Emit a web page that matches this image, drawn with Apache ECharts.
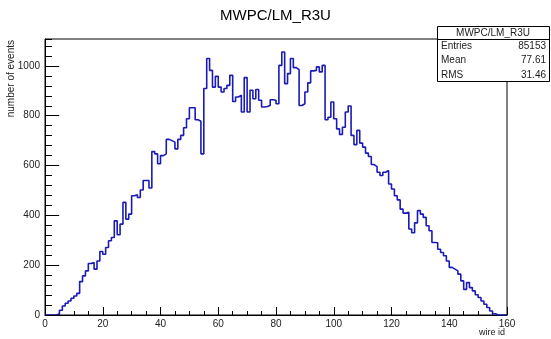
<!DOCTYPE html>
<html>
<head>
    <meta charset="utf-8">
    <title>MWPC/LM_R3U</title>
    <style type="text/css">
        html, body { height: 100%; margin: 0; padding: 0; background: #fff; }
        #main { width: 551px; height: 339px; }
    </style>
</head>
<body>
<div id="main"></div>
<script type="text/javascript" src="https://cdn.jsdelivr.net/npm/echarts@6/dist/echarts.min.js"></script>
<script type="text/javascript">
    // histogram: 160 bins of width 1 starting at 0
    var binStart = 0;
    var binWidth = 1;
    var counts = [
        0, 0, 0, 0, 5, 19, 36, 47, 56, 67,
        76, 87, 134, 157, 177, 207, 211, 184, 217, 255,
        244, 271, 298, 311, 378, 322, 365, 452, 385, 405,
        479, 483, 472, 502, 540, 540, 510, 656, 647, 607,
        640, 647, 705, 700, 694, 667, 705, 721, 752, 788,
        832, 832, 784, 778, 647, 909, 1030, 982, 915, 958,
        915, 895, 909, 922, 962, 857, 875, 882, 815, 953,
        815, 902, 868, 905, 862, 835, 837, 841, 864, 862,
        848, 1002, 1056, 929, 969, 1030, 993, 985, 841, 848,
        895, 932, 980, 982, 996, 976, 1002, 784, 794, 855,
        788, 747, 725, 754, 815, 839, 721, 684, 741, 690,
        674, 650, 636, 604, 596, 573, 560, 573, 580, 526,
        506, 479, 462, 425, 409, 412, 345, 330, 370, 419,
        405, 392, 358, 338, 291, 290, 264, 251, 238, 217,
        191, 184, 177, 164, 137, 103, 130, 110, 97, 81,
        70, 56, 43, 30, 16, 5, 0, 0, 0, 0
    ];
    var statNames = ['Entries', 'Mean', 'RMS'];
    var statValues = ['85153', '77.61', '31.46'];
    var histTitle = 'MWPC/LM_R3U';
    var yMajorLabels = [0, 200, 400, 600, 800, 1000];

    var points = [];
    for (var i = 0; i < counts.length; i++) {
        points.push([binStart + i * binWidth, counts[i]]);
    }
    points.push([binStart + counts.length * binWidth, counts[counts.length - 1]]);

    var font = 'Liberation Sans';
    var statsX = 437, statsY = 26, statsW = 112;
    var graphics = [
        {type: 'text', left: 'center', top: 8, style: {text: histTitle, font: '15px ' + font, fill: '#000'}},
        {type: 'text', x: 11, y: 40, rotation: Math.PI / 2,
            style: {text: 'number of events', font: '10px ' + font, fill: '#222', align: 'right', verticalAlign: 'middle'}},
        {type: 'text', x: 505, y: 333,
            style: {text: 'wire id', font: '9px ' + font, fill: '#222', align: 'right', verticalAlign: 'middle'}},
        {type: 'rect', shape: {x: statsX + 0.5, y: statsY + 0.5, width: statsW, height: 55}, z: 100,
            style: {fill: '#fff', stroke: '#000', lineWidth: 1}},
        {type: 'line', shape: {x1: statsX, y1: 39.5, x2: statsX + statsW, y2: 39.5}, z: 101,
            style: {stroke: '#000', lineWidth: 1}},
        {type: 'text', x: statsX + statsW / 2, y: 33, z: 101,
            style: {text: histTitle, font: '10px ' + font, fill: '#222', align: 'center', verticalAlign: 'middle'}}
    ];
    for (var k = 0; k < statNames.length; k++) {
        graphics.push({type: 'text', x: statsX + 4, y: 46 + k * 14.5, z: 101,
            style: {text: statNames[k], font: '10px ' + font, fill: '#222', align: 'left', verticalAlign: 'middle'}});
        graphics.push({type: 'text', x: statsX + statsW - 3, y: 46 + k * 14.5, z: 101,
            style: {text: statValues[k], font: '10px ' + font, fill: '#222', align: 'right', verticalAlign: 'middle'}});
    }

    var myChart = echarts.init(document.getElementById('main'), null, {renderer: 'canvas'});
    myChart.setOption({
        animation: false,
        backgroundColor: '#fff',
        textStyle: {fontFamily: font},
        grid: {left: 45, right: 44, top: 39, bottom: 24, show: true, borderColor: '#000', borderWidth: 1},
        xAxis: {
            type: 'value', min: 0, max: 160, interval: 20,
            axisLine: {lineStyle: {color: '#000'}},
            axisTick: {inside: true, length: 8, lineStyle: {color: '#000'}},
            minorTick: {show: true, splitNumber: 4, length: 4, lineStyle: {color: '#000'}},
            axisLabel: {fontSize: 10, color: '#222', margin: 4},
            splitLine: {show: false}
        },
        yAxis: {
            // ticks every 40, labels every 200
            type: 'value', min: 0, max: 1108, interval: 40,
            axisLine: {show: true, lineStyle: {color: '#000'}},
            axisTick: {show: true, inside: true, length: 7, lineStyle: {color: '#000'}},
            minorTick: {show: false},
            axisLabel: {fontSize: 10, color: '#222', margin: 5,
                customValues: yMajorLabels, formatter: function (v) { return String(v); }},
            splitLine: {show: false}
        },
        graphic: graphics,
        series: [{
            type: 'line',
            step: 'end',
            data: points,
            symbol: 'none',
            lineStyle: {color: '#1a1ab8', width: 1.6},
            markLine: {
                silent: true, symbol: 'none', animation: false,
                lineStyle: {color: '#000', type: 'solid', width: 1},
                label: {show: false},
                data: yMajorLabels.map(function (v) {
                    return [{coord: [0, v]}, {coord: [4.9, v]}];
                })
            }
        }]
    });
</script>
</body>
</html>
